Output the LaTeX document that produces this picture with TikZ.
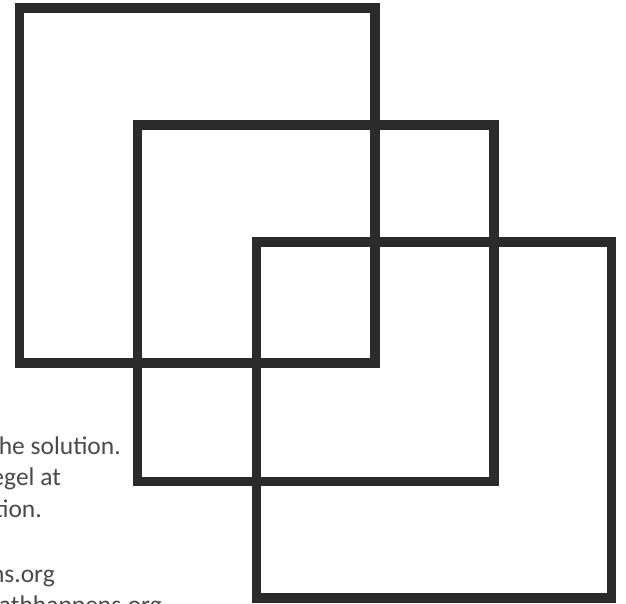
\documentclass[tikz,border=0pt]{standalone}
\usepackage{fontspec}
\setmainfont{Carlito}
\definecolor{boxline}{HTML}{2C2B2C}
\definecolor{txtgrey}{HTML}{4A4A4A}
\begin{document}
\begin{tikzpicture}[x=1pt,y=-1pt,
  sq/.style={draw=boxline,line width=9.5pt,miter limit=10},
  txt/.style={anchor=base east,inner sep=0pt,text=txtgrey,font=\fontsize{25.5}{30}\selectfont}]
\useasboundingbox (0,0) rectangle (626,604);
\clip (0,0) rectangle (626,604);
\node[txt] (l1) at (121,454) {he solution.};
\node[txt] (l2) at (61,485) {egel at};
\node[txt] (l3) at (42,517) {tion.};
\node[txt] (l5) at (55,582) {hs.org};
\node[txt] (l6) at (162,613) {athhappens.org};
\draw[sq] (19.5,8) rectangle (375,363);
\draw[sq] (137.7,125) rectangle (494,481.5);
\draw[sq] (256.7,242) rectangle (611.5,598);
\end{tikzpicture}
\end{document}
